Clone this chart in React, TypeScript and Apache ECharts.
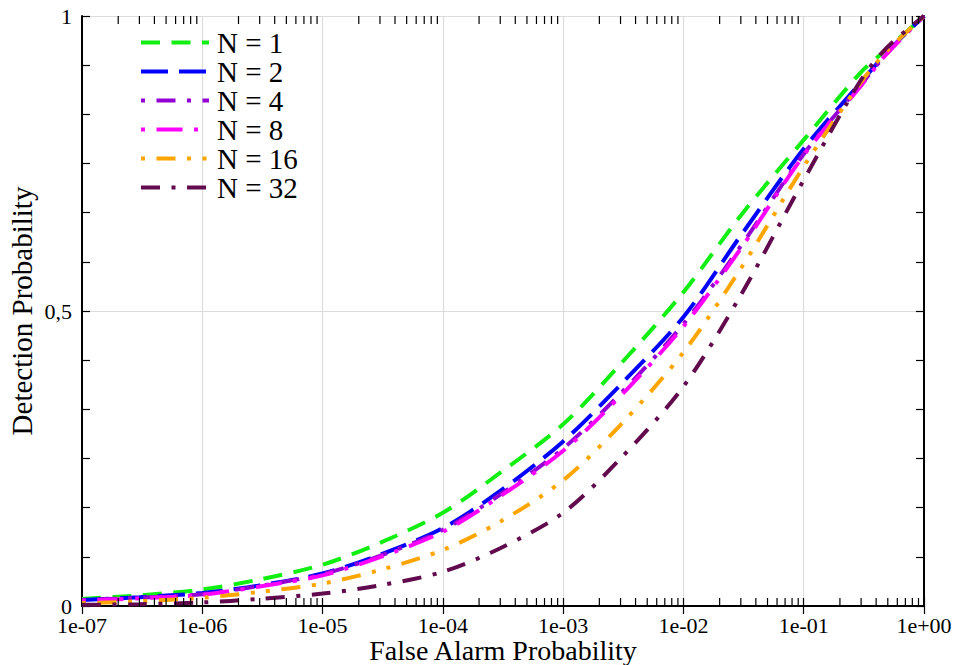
import React, { useEffect, useRef } from "react";
import * as echarts from "echarts";

// False alarm probabilities (x) and detection probabilities (y) per N
const falseAlarm = [1e-7, 3e-7, 1e-6, 3e-6, 1e-5, 3e-5, 1e-4, 3e-4, 1e-3, 3e-3, 1e-2, 3e-2, 1e-1, 3e-1, 5e-1, 1];
const pdN1 = [0.012, 0.018, 0.028, 0.045, 0.070, 0.107, 0.158, 0.226, 0.308, 0.410, 0.532, 0.662, 0.790, 0.905, 0.945, 1.0];
const pdN2 = [0.010, 0.015, 0.022, 0.035, 0.055, 0.087, 0.132, 0.195, 0.279, 0.375, 0.490, 0.628, 0.775, 0.888, 0.940, 1.0];
const pdN4 = [0.010, 0.014, 0.020, 0.034, 0.054, 0.085, 0.129, 0.189, 0.267, 0.360, 0.478, 0.610, 0.766, 0.884, 0.938, 1.0];
const pdN8 = [0.009, 0.013, 0.019, 0.033, 0.052, 0.083, 0.126, 0.186, 0.263, 0.356, 0.474, 0.606, 0.764, 0.882, 0.938, 1.0];
const pdN16 = [0.005, 0.008, 0.014, 0.024, 0.038, 0.061, 0.095, 0.143, 0.213, 0.307, 0.430, 0.572, 0.745, 0.888, 0.942, 1.0];
const pdN32 = [0.002, 0.003, 0.006, 0.012, 0.021, 0.035, 0.058, 0.098, 0.158, 0.250, 0.372, 0.527, 0.722, 0.892, 0.948, 1.0];

const seriesNames = ["N = 1", "N = 2", "N = 4", "N = 8", "N = 16", "N = 32"];
const seriesColors = ["#11ee11", "#0000ff", "#9400d3", "#ff00ff", "#ffa500", "#620a4e"];
const seriesDash = [
  [19, 11.5],
  [27, 11],
  [4, 11.5, 19, 11.5],
  [4, 11.5, 26, 11.5],
  [4, 11.5, 19, 11.5, 4, 11.5],
  [19, 11.5, 4, 11.5],
];
const seriesValues = [pdN1, pdN2, pdN4, pdN8, pdN16, pdN32];

// minor tick positions of the log axis
const decades = [1e-7, 1e-6, 1e-5, 1e-4, 1e-3, 1e-2, 1e-1];
const minorMultipliers = [2, 3, 4, 5, 6, 7, 8, 9];

const FONT = "Liberation Serif";

export default function App() {
  const ref = useRef<HTMLDivElement>(null);
  useEffect(() => {
    if (!ref.current) return;
    const chart = echarts.init(ref.current, undefined, { renderer: "svg" });
    const minorTicks: number[][] = [];
    decades.forEach((d) => minorMultipliers.forEach((m) => minorTicks.push([d * m, 0])));

    const fmtX = (v: number) => {
      const e = Math.round(Math.log10(v));
      return "1e" + (e < 0 ? "-" : "+") + String(Math.abs(e)).padStart(2, "0");
    };

    const lineSeries = seriesNames.map((name, i) => ({
      name,
      type: "line",
      smooth: 0.3,
      symbol: "none",
      showSymbol: false,
      xAxisIndex: 0,
      yAxisIndex: 0,
      data: falseAlarm.map((x, j) => [x, seriesValues[i][j]]),
      lineStyle: { color: seriesColors[i], width: 4, type: seriesDash[i], cap: "butt" },
      itemStyle: { color: seriesColors[i] },
      z: 3 + i,
    }));

    const tickSeries = {
      type: "custom",
      xAxisIndex: 0,
      yAxisIndex: 0,
      silent: true,
      z: 10,
      data: minorTicks,
      renderItem: (params: any, api: any) => {
        const cs = params.coordSys;
        const p = api.coord([api.value(0), 0]);
        const style = { stroke: "#000", lineWidth: 1.2 };
        return {
          type: "group",
          children: [
            { type: "line", shape: { x1: p[0], y1: cs.y + cs.height, x2: p[0], y2: cs.y + cs.height - 8 }, style },
            { type: "line", shape: { x1: p[0], y1: cs.y, x2: p[0], y2: cs.y + 8 }, style },
          ],
        };
      },
    };

    const axisLine = { show: true, lineStyle: { color: "#000", width: 2 } };
    const tickStyle = { show: true, inside: true, length: 8, lineStyle: { color: "#000", width: 1.2 } };

    chart.setOption({
      animation: false,
      backgroundColor: "#fff",
      textStyle: { fontFamily: FONT },
      grid: { left: 82, right: 32, top: 16, bottom: 59, containLabel: false, outerBoundsMode: "none" },
      legend: {
        data: seriesNames,
        orient: "vertical",
        left: 134,
        top: 23,
        itemWidth: 68,
        itemHeight: 14,
        itemGap: 0,
        lineStyle: { width: 4 },
        itemStyle: { opacity: 0 },
        textStyle: { fontFamily: FONT, fontSize: 29, color: "#000", lineHeight: 27.6, padding: [0, 0, 0, 3] },
      },
      xAxis: [
        {
          type: "log",
          logBase: 10,
          min: 1e-7,
          max: 1,
          position: "bottom",
          name: "False Alarm Probability",
          nameLocation: "middle",
          nameGap: 31,
          nameMoveOverlap: false,
          nameTextStyle: { fontFamily: FONT, fontSize: 28, color: "#000", lineHeight: 26 },
          axisLine,
          axisTick: tickStyle,
          axisLabel: { fontFamily: FONT, fontSize: 22, lineHeight: 20, color: "#000", margin: 9, formatter: fmtX, showMinLabel: true, showMaxLabel: true },
          splitLine: { show: true, lineStyle: { color: "#dcdcdc", width: 1.2 } },
        },
        {
          type: "log",
          logBase: 10,
          min: 1e-7,
          max: 1,
          position: "top",
          axisLine,
          axisTick: tickStyle,
          axisLabel: { show: false },
          splitLine: { show: false },
        },
      ],
      yAxis: [
        {
          type: "value",
          min: 0,
          max: 1,
          interval: 0.5,
          position: "left",
          name: "Detection Probability",
          nameLocation: "middle",
          nameGap: 46,
          nameMoveOverlap: false,
          nameTextStyle: { fontFamily: FONT, fontSize: 29, color: "#000" },
          axisLine,
          axisTick: tickStyle,
          minorTick: { show: true, splitNumber: 6, length: 8, lineStyle: { color: "#000", width: 1.2 } },
          axisLabel: { fontFamily: FONT, fontSize: 22, lineHeight: 18, color: "#000", margin: 10, formatter: (v: number) => String(v).replace(".", ",") },
          splitLine: { show: true, lineStyle: { color: "#dcdcdc", width: 1.2 } },
        },
        {
          type: "value",
          min: 0,
          max: 1,
          interval: 0.5,
          position: "right",
          axisLine,
          axisTick: tickStyle,
          minorTick: { show: true, splitNumber: 6, length: 8, lineStyle: { color: "#000", width: 1.2 } },
          axisLabel: { show: false },
          splitLine: { show: false },
        },
      ],
      series: [...lineSeries, tickSeries],
    });
    return () => chart.dispose();
  }, []);
  return <div ref={ref} style={{ position: "fixed", left: 0, top: 0, width: 956, height: 665 }} />;
}
